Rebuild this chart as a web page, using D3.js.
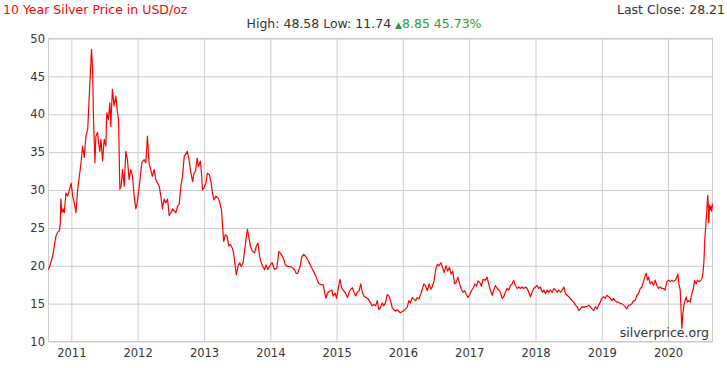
<!DOCTYPE html>
<html>
<head>
<meta charset="utf-8">
<script src="https://cdn.jsdelivr.net/npm/d3@7"></script>
<style>
  body { margin: 0; background: #fff; }
  svg { display: block; font-family: "DejaVu Sans", Verdana, sans-serif; }
</style>
</head>
<body>
<svg id="chart"></svg>
<script>
// silver price, USD/oz, [date, price]
const silver2010 = [["2010-08-28",19.5],["2010-09-02",19.8],["2010-09-20",21.3],["2010-10-08",23.9],["2010-10-17",24.4],["2010-10-26",24.6],["2010-11-01",25.5],["2010-11-04",28.8],["2010-11-10",27.0],["2010-11-17",27.5],["2010-11-23",27.0],["2010-12-02",29.6],["2010-12-11",29.2],["2010-12-20",29.9],["2010-12-31",30.9]]
const silver2011 = [["2011-01-08",29.2],["2011-01-17",28.3],["2011-01-26",27.0],["2011-02-05",30.1],["2011-02-14",31.8],["2011-02-23",33.6],["2011-03-04",35.8],["2011-03-13",34.3],["2011-03-22",37.1],["2011-04-01",38.0],["2011-04-06",40.6],["2011-04-13",44.2],["2011-04-22",48.58],["2011-04-28",45.9],["2011-05-04",38.4],["2011-05-11",33.6],["2011-05-16",37.1],["2011-05-25",37.6],["2011-05-31",36.2],["2011-06-07",35.1],["2011-06-13",36.7],["2011-06-22",33.8],["2011-07-01",36.7],["2011-07-10",35.8],["2011-07-15",40.2],["2011-07-24",39.3],["2011-08-01",41.5],["2011-08-06",38.4],["2011-08-15",43.3],["2011-08-24",41.1],["2011-09-03",42.4],["2011-09-12",40.2],["2011-09-18",39.3],["2011-09-25",30.1],["2011-10-02",30.5],["2011-10-10",32.7],["2011-10-19",30.5],["2011-10-28",35.1],["2011-11-06",34.0],["2011-11-15",31.4],["2011-11-24",32.7],["2011-12-04",31.8],["2011-12-13",29.2],["2011-12-22",27.5],["2011-12-29",28.2]]
const silver2012 = [["2012-01-03",29.2],["2012-01-10",30.5],["2012-01-24",33.6],["2012-02-06",34.0],["2012-02-15",33.6],["2012-02-24",37.1],["2012-03-04",33.6],["2012-03-13",32.7],["2012-03-22",31.8],["2012-04-01",32.7],["2012-04-10",31.4],["2012-04-29",30.5],["2012-05-08",29.2],["2012-05-17",27.5],["2012-05-26",28.8],["2012-06-04",28.3],["2012-06-14",28.8],["2012-06-23",26.6],["2012-07-02",27.0],["2012-07-11",27.5],["2012-07-30",27.0],["2012-08-08",27.9],["2012-08-17",28.1],["2012-08-26",30.5],["2012-09-04",31.8],["2012-09-14",34.5],["2012-09-18",34.6],["2012-10-01",35.1],["2012-10-10",34.0],["2012-10-21",32.2],["2012-10-30",31.1],["2012-11-06",32.2],["2012-11-15",32.5],["2012-11-24",34.2],["2012-12-01",33.1],["2012-12-12",33.8],["2012-12-18",32.2],["2012-12-23",30.0]]
const silver2013 = [["2013-01-01",30.3],["2013-01-11",30.9],["2013-01-19",32.2],["2013-01-30",32.0],["2013-02-08",31.1],["2013-02-15",29.8],["2013-02-24",28.7],["2013-03-07",29.2],["2013-03-20",28.9],["2013-03-29",28.3],["2013-04-07",27.4],["2013-04-12",25.6],["2013-04-19",23.2],["2013-04-28",24.1],["2013-05-08",23.9],["2013-05-17",22.6],["2013-05-26",22.8],["2013-06-06",22.3],["2013-06-13",21.7],["2013-06-19",20.4],["2013-06-28",18.8],["2013-07-07",19.9],["2013-07-16",20.4],["2013-07-25",19.9],["2013-08-04",20.4],["2013-08-13",22.1],["2013-08-22",23.9],["2013-08-28",24.8],["2013-09-04",23.9],["2013-09-13",22.6],["2013-09-24",21.9],["2013-10-07",21.7],["2013-10-16",22.6],["2013-10-25",23.0],["2013-11-03",21.2],["2013-11-12",20.4],["2013-11-21",19.9],["2013-11-30",19.5],["2013-12-09",20.1],["2013-12-18",19.5]]
const silver2014 = [["2014-01-01",20.1],["2014-01-11",20.4],["2014-01-24",19.5],["2014-02-06",19.7],["2014-02-17",21.9],["2014-03-02",21.5],["2014-03-14",21.0],["2014-03-25",20.1],["2014-04-07",19.9],["2014-04-20",19.9],["2014-05-05",19.7],["2014-05-14",19.5],["2014-05-23",19.0],["2014-06-01",19.0],["2014-06-14",19.9],["2014-06-24",21.2],["2014-07-04",21.5],["2014-07-16",21.2],["2014-07-31",20.6],["2014-08-13",19.9],["2014-08-26",19.3],["2014-09-09",18.6],["2014-09-24",17.7],["2014-10-07",17.5],["2014-10-19",17.5],["2014-11-03",15.7],["2014-11-12",16.4],["2014-11-21",16.6],["2014-12-06",16.8],["2014-12-13",16.0],["2014-12-24",16.4]]
const silver2015 = [["2015-01-01",15.7],["2015-01-11",17.1],["2015-01-20",18.2],["2015-01-29",17.1],["2015-02-08",16.7],["2015-02-17",16.5],["2015-03-02",15.8],["2015-03-11",16.5],["2015-03-20",16.9],["2015-03-29",17.1],["2015-04-07",16.5],["2015-04-16",16.0],["2015-04-25",16.5],["2015-05-05",16.7],["2015-05-14",17.6],["2015-05-23",16.5],["2015-06-01",16.0],["2015-06-10",15.8],["2015-06-25",15.6],["2015-07-07",15.1],["2015-07-16",14.7],["2015-07-25",14.9],["2015-08-04",14.7],["2015-08-13",15.4],["2015-08-22",14.2],["2015-08-31",14.5],["2015-09-09",15.1],["2015-09-18",14.7],["2015-09-27",15.1],["2015-10-07",16.2],["2015-10-16",16.0],["2015-10-25",15.4],["2015-11-03",14.5],["2015-11-12",14.2],["2015-11-21",14.0],["2015-11-30",14.2],["2015-12-09",14.0],["2015-12-18",13.8]]
const silver2016 = [["2016-01-01",14.0],["2016-01-12",14.2],["2016-01-25",14.5],["2016-02-03",15.4],["2016-02-12",15.1],["2016-02-22",15.8],["2016-03-02",15.6],["2016-03-11",15.4],["2016-03-20",15.8],["2016-03-30",15.6],["2016-04-08",16.2],["2016-04-17",16.9],["2016-04-26",17.6],["2016-05-06",17.3],["2016-05-15",16.7],["2016-05-25",17.6],["2016-06-03",16.9],["2016-06-12",17.3],["2016-06-21",18.0],["2016-07-01",19.6],["2016-07-10",20.2],["2016-07-19",20.0],["2016-07-29",20.4],["2016-08-07",19.8],["2016-08-16",19.1],["2016-08-26",20.0],["2016-09-04",19.3],["2016-09-14",19.8],["2016-09-23",18.9],["2016-10-02",19.3],["2016-10-12",17.6],["2016-10-21",17.8],["2016-10-30",18.5],["2016-11-09",17.6],["2016-11-18",16.9],["2016-11-27",16.5],["2016-12-07",16.7],["2016-12-16",16.2],["2016-12-25",15.8]]
const silver2017 = [["2017-01-04",16.2],["2017-01-13",16.7],["2017-01-23",17.1],["2017-02-01",17.6],["2017-02-10",17.3],["2017-02-19",18.0],["2017-02-28",17.8],["2017-03-09",17.3],["2017-03-18",18.2],["2017-03-31",18.1],["2017-04-09",18.5],["2017-04-18",17.6],["2017-04-27",16.8],["2017-05-07",16.1],["2017-05-16",16.8],["2017-05-25",17.4],["2017-06-04",17.0],["2017-06-13",16.8],["2017-06-22",16.5],["2017-07-01",15.7],["2017-07-10",15.9],["2017-07-19",16.5],["2017-07-28",17.0],["2017-08-07",16.8],["2017-08-16",17.4],["2017-08-25",17.6],["2017-09-03",18.1],["2017-09-12",17.4],["2017-09-22",17.0],["2017-10-01",17.2],["2017-10-10",17.0],["2017-10-19",17.2],["2017-10-28",17.0],["2017-11-07",17.2],["2017-11-16",17.0],["2017-11-25",16.5],["2017-12-04",15.9],["2017-12-13",16.5],["2017-12-22",17.0]]
const silver2018 = [["2018-01-01",17.2],["2018-01-10",17.4],["2018-01-19",17.0],["2018-01-28",17.2],["2018-02-07",16.5],["2018-02-16",16.8],["2018-02-25",16.3],["2018-03-06",16.8],["2018-03-15",16.5],["2018-03-24",16.8],["2018-04-03",16.5],["2018-04-12",17.0],["2018-04-21",16.8],["2018-04-30",16.5],["2018-05-09",16.8],["2018-05-18",16.5],["2018-05-28",16.8],["2018-06-06",17.2],["2018-06-15",16.3],["2018-06-24",16.1],["2018-07-03",15.9],["2018-07-12",15.7],["2018-07-21",15.4],["2018-07-31",15.2],["2018-08-09",14.8],["2018-08-18",14.6],["2018-08-27",14.1],["2018-09-05",14.3],["2018-09-15",14.6],["2018-09-24",14.5],["2018-10-03",14.6],["2018-10-12",14.6],["2018-10-21",14.8],["2018-10-30",14.6],["2018-11-08",14.3],["2018-11-18",14.1],["2018-11-27",14.6],["2018-12-06",14.3],["2018-12-15",14.8],["2018-12-24",15.2]]
const silver2019 = [["2019-01-02",15.7],["2019-01-11",15.9],["2019-01-20",15.7],["2019-01-29",16.1],["2019-02-08",15.9],["2019-02-17",15.7],["2019-02-26",15.4],["2019-03-07",15.7],["2019-03-16",15.4],["2019-03-25",15.2],["2019-04-04",15.2],["2019-04-13",15.0],["2019-04-22",15.0],["2019-05-01",14.8],["2019-05-10",14.6],["2019-05-19",14.3],["2019-05-29",14.8],["2019-06-07",14.8],["2019-06-16",15.0],["2019-06-25",15.4],["2019-07-04",15.4],["2019-07-13",16.1],["2019-07-22",16.3],["2019-08-01",17.0],["2019-08-10",17.2],["2019-08-19",17.9],["2019-08-28",18.7],["2019-09-03",19.0],["2019-09-10",18.1],["2019-09-16",18.5],["2019-09-25",17.6],["2019-10-04",17.9],["2019-10-13",17.4],["2019-10-22",18.1],["2019-11-01",17.4],["2019-11-10",17.0],["2019-11-19",17.2],["2019-11-28",17.0],["2019-12-07",17.0],["2019-12-16",16.8],["2019-12-26",17.9]]
const silver2020 = [["2020-01-04",18.1],["2020-01-13",17.9],["2020-01-22",18.1],["2020-01-31",17.9],["2020-02-10",18.1],["2020-02-19",18.5],["2020-02-24",18.9],["2020-03-01",17.6],["2020-03-08",16.8],["2020-03-13",14.1],["2020-03-17",11.74],["2020-03-23",13.7],["2020-03-30",15.0],["2020-04-04",15.4],["2020-04-10",15.9],["2020-04-17",15.2],["2020-04-23",15.4],["2020-05-02",15.2],["2020-05-11",16.3],["2020-05-20",17.0],["2020-05-26",18.1],["2020-06-04",17.6],["2020-06-11",18.1],["2020-06-20",17.9],["2020-07-01",18.1],["2020-07-08",18.5],["2020-07-13",19.4],["2020-07-17",20.7],["2020-07-21",23.3],["2020-07-25",24.6],["2020-07-30",26.4],["2020-08-05",28.6],["2020-08-07",29.3],["2020-08-10",27.8],["2020-08-12",25.7],["2020-08-17",28.0],["2020-08-21",27.4],["2020-08-25",27.8],["2020-08-28",27.2],["2020-09-02",28.21]]

const yTicks = [10, 15, 20, 25, 30, 35, 40, 45, 50]
const xTickYears = [2011, 2012, 2013, 2014, 2015, 2016, 2017, 2018, 2019, 2020]
const dateRange = ["2010-08-28", "2020-09-02"]
const high = "48.58", low = "11.74", change = "8.85", changePct = "45.73%", lastClose = "28.21"

const w = 727
const h = 368
const margin = { top: 38.5, right: 14.5, bottom: 26.5, left: 48.5 }
const innerW = w - margin.left - margin.right
const innerH = h - margin.top - margin.bottom
const parse = d3.timeParse('%Y-%m-%d')

const data = [].concat(silver2010, silver2011, silver2012, silver2013, silver2014,
    silver2015, silver2016, silver2017, silver2018, silver2019, silver2020)
    .map(d => ({ date: parse(d[0]), price: d[1] }))

const svg = d3.select('#chart')
    .attr('width', w)
    .attr('height', h)

// header
svg.append('text')
    .attr('x', 3).attr('y', 14)
    .style('font-size', '12.5px').style('fill', '#f00')
    .text('10 Year Silver Price in USD/oz')
svg.append('text')
    .attr('x', 725).attr('y', 14)
    .attr('text-anchor', 'end')
    .style('font-size', '12.5px').style('fill', '#333')
    .text('Last Close: ' + lastClose)
const stats = svg.append('text')
    .attr('x', 364).attr('y', 28)
    .attr('text-anchor', 'middle')
    .style('font-size', '12.5px').style('fill', '#333')
stats.append('tspan').text('High: ' + high + ' Low: ' + low + ' ')
stats.append('tspan').style('fill', '#339933').style('font-size', '9px').text('\u25B2')
stats.append('tspan').style('fill', '#339933').text(change + ' ' + changePct)

const g = svg.append('g')
    .attr('transform', `translate(${margin.left},${margin.top})`)

//set scaling
const xScale = d3.scaleTime()
    .domain(dateRange.map(parse))
    .range([0, innerW])
const yScale = d3.scaleLinear()
    .domain([10, 50])
    .range([innerH, 0])

//axes with grid lines
const xAxis = d3.axisBottom(xScale)
    .tickValues(xTickYears.map(y => new Date(y, 0, 1)))
    .tickFormat(d3.timeFormat('%Y'))
    .tickSize(-innerH)
    .tickPadding(7)
const yAxis = d3.axisLeft(yScale)
    .tickValues(yTicks)
    .tickSize(-innerW)
    .tickPadding(3.5)

const gx = g.append('g')
    .attr('transform', `translate(0, ${innerH})`)
    .call(xAxis)
const gy = g.append('g')
    .call(yAxis)

;[gx, gy].forEach(ax => {
    ax.select('.domain').remove()
    ax.selectAll('line').attr('stroke', '#cccccc')
    ax.selectAll('text')
        .style('font-family', '"DejaVu Sans", Verdana, sans-serif')
        .style('font-size', '11.5px')
        .attr('fill', '#333')
})

g.append('rect')
    .attr('width', innerW)
    .attr('height', innerH)
    .attr('fill', 'none')
    .attr('stroke', '#cccccc')

// price line
const line = d3.line()
    .x(d => xScale(d.date))
    .y(d => yScale(d.price))
g.append('path')
    .datum(data)
    .attr('fill', 'none')
    .attr('stroke', '#ff0000')
    .attr('stroke-width', 1.2)
    .attr('stroke-linejoin', 'round')
    .attr('d', line)

// watermark
svg.append('text')
    .attr('x', 709).attr('y', 337)
    .attr('text-anchor', 'end')
    .style('font-size', '12.5px').style('fill', '#333')
    .text('silverprice.org')
</script>
</body>
</html>
